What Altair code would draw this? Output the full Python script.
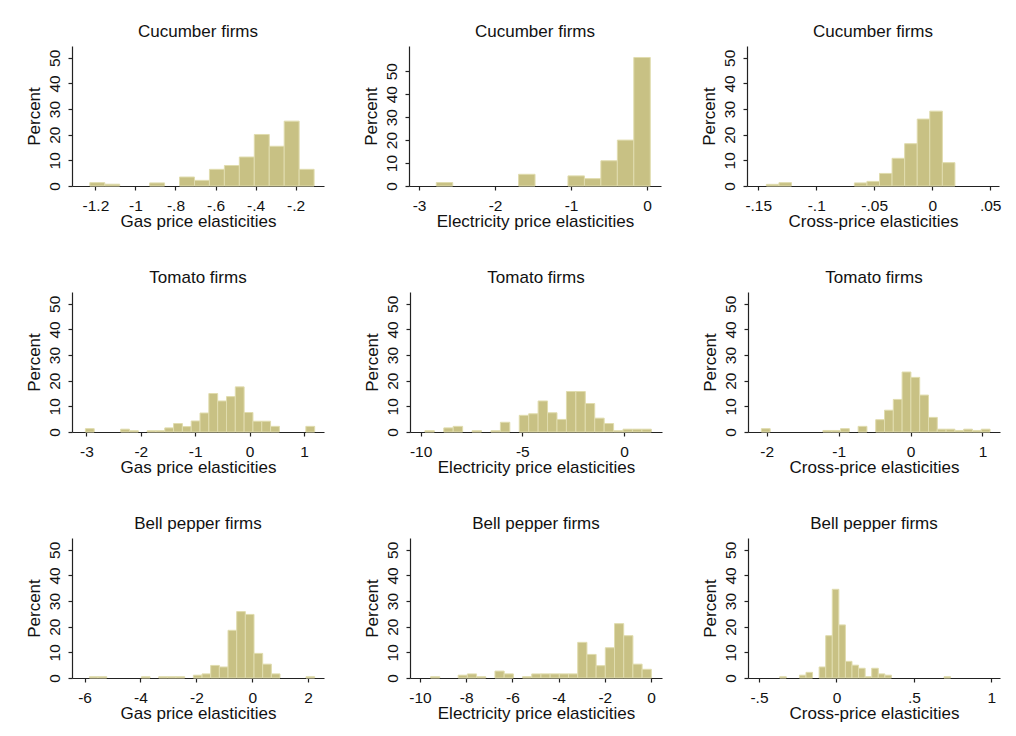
import json
import altair as alt
import pandas as pd

FONT = "Liberation Sans"
TEXT = "#111111"
AXIS = "#222222"
BAR_FILL = "#C8C184"
BAR_STROKE = "#E0DCAE"

# ---- data: bin start, bin width, percent per bin ----
rows = ["Cucumber firms", "Tomato firms", "Bell pepper firms"]
xtitles = ["Gas price elasticities", "Electricity price elasticities", "Cross-price elasticities"]

cuc_gas_start, cuc_gas_width = -1.228, 0.0747
cuc_gas_pct = [1.3, 0.7, 0, 0, 1.2, 0, 3.5, 2.2, 6.5, 8.0, 11.3, 20.1, 15.5, 25.3, 6.5]

cuc_ele_start, cuc_ele_width = -2.773, 0.2166
cuc_ele_pct = [1.5, 0, 0, 0, 0, 5.1, 0, 0, 4.4, 3.2, 11.0, 20.0, 56.0]

cuc_crs_start, cuc_crs_width = -0.1430, 0.01084
cuc_crs_pct = [0.65, 1.3, 0, 0, 0, 0, 0, 1.2, 1.8, 4.9, 10.8, 16.5, 26.1, 29.2, 9.1]

tom_gas_start, tom_gas_width = -3.018, 0.1621
tom_gas_pct = [1.3, 0, 0, 0, 1.1, 0.5, 0, 0.5, 0.5, 1.6, 3.3, 2.1, 4.3, 7.4, 15.0, 12.1,
               13.8, 17.6, 7.6, 4.2, 4.2, 2.2, 0, 0, 0, 2.2]

tom_ele_start, tom_ele_width = -9.787, 0.4637
tom_ele_pct = [0.5, 0, 1.6, 2.2, 0, 0.5, 0, 0.5, 3.8, 0, 6.5, 7.1, 12.1, 7.5, 4.9, 15.8,
               15.8, 11.1, 5.4, 3.3, 0.5, 1.1, 1.1, 1.1]

tom_crs_start, tom_crs_width = -2.074, 0.1223
tom_crs_pct = [1.3, 0, 0, 0, 0, 0, 0, 0.6, 0.6, 1.3, 0, 2.2, 0, 4.8, 8.5, 12.7, 23.4,
               21.3, 14.4, 5.7, 1.1, 1.1, 0.6, 1.1, 0.6, 1.1]

bel_gas_start, bel_gas_width = -5.827, 0.31
bel_gas_pct = [0.5, 0.5, 0, 0, 0, 0, 0.5, 0, 0.5, 0.5, 0.5, 0, 1.1, 1.6, 4.9, 4.3, 18.6,
               25.9, 24.8, 9.6, 5.4, 1.6, 0, 0, 0, 0.5]

bel_ele_start, bel_ele_width = -9.539, 0.398
bel_ele_pct = [0.5, 0, 0, 1.1, 1.6, 0.5, 0, 2.7, 1.6, 0, 0.5, 1.6, 1.6, 1.6, 1.6, 1.6,
               13.9, 9.2, 4.8, 11.8, 21.2, 16.5, 5.4, 3.4]

bel_crs_start, bel_crs_width = -0.3664, 0.04244
bel_crs_pct = [0.5, 0, 0, 1.1, 2.2, 0, 4.3, 16.5, 34.6, 20.7, 6.5, 5.0, 3.8, 0.5, 3.8,
               1.6, 1.1, 0, 0, 0, 0, 0, 0, 0, 0, 0.5]

# ---- axes: ticks, tick labels, axis ranges ----
gas1_ticks = [-1.2, -1, -0.8, -0.6, -0.4, -0.2]
gas1_labels = ["-1.2", "-1", "-.8", "-.6", "-.4", "-.2"]
ele1_ticks = [-3, -2, -1, 0]
ele1_labels = ["-3", "-2", "-1", "0"]
crs1_ticks = [-0.15, -0.1, -0.05, 0, 0.05]
crs1_labels = ["-.15", "-.1", "-.05", "0", ".05"]
gas2_ticks = [-3, -2, -1, 0, 1]
gas2_labels = ["-3", "-2", "-1", "0", "1"]
ele2_ticks = [-10, -5, 0]
ele2_labels = ["-10", "-5", "0"]
crs2_ticks = [-2, -1, 0, 1]
crs2_labels = ["-2", "-1", "0", "1"]
gas3_ticks = [-6, -4, -2, 0, 2]
gas3_labels = ["-6", "-4", "-2", "0", "2"]
ele3_ticks = [-10, -8, -6, -4, -2, 0]
ele3_labels = ["-10", "-8", "-6", "-4", "-2", "0"]
crs3_ticks = [-0.5, 0, 0.5, 1]
crs3_labels = ["-.5", "0", ".5", "1"]

y_ticks = [0, 10, 20, 30, 40, 50]
y_labels = ["0", "10", "20", "30", "40", "50"]

x_ranges = [
    [-1.317, -0.058], [-3.132, 0.184], [-0.1597, 0.0576],
    [-3.264, 1.368], [-10.52, 1.866], [-2.260, 1.244],
    [-6.45, 2.567], [-10.43, 0.476], [-0.571, 1.056],
]
y_tops = [54.6, 61.0, 54.6, 54.6, 54.6, 54.6, 54.6, 54.6, 54.6]

hists = [
    (cuc_gas_start, cuc_gas_width, cuc_gas_pct, gas1_ticks, gas1_labels),
    (cuc_ele_start, cuc_ele_width, cuc_ele_pct, ele1_ticks, ele1_labels),
    (cuc_crs_start, cuc_crs_width, cuc_crs_pct, crs1_ticks, crs1_labels),
    (tom_gas_start, tom_gas_width, tom_gas_pct, gas2_ticks, gas2_labels),
    (tom_ele_start, tom_ele_width, tom_ele_pct, ele2_ticks, ele2_labels),
    (tom_crs_start, tom_crs_width, tom_crs_pct, crs2_ticks, crs2_labels),
    (bel_gas_start, bel_gas_width, bel_gas_pct, gas3_ticks, gas3_labels),
    (bel_ele_start, bel_ele_width, bel_ele_pct, ele3_ticks, ele3_labels),
    (bel_crs_start, bel_crs_width, bel_crs_pct, crs3_ticks, crs3_labels),
]

W, H = 252, 140


def lookup_expr(ticks, labels):
    return f"{json.dumps(labels)}[indexof({json.dumps(ticks)}, datum.value)]"


def panel(i):
    start, width, pct, ticks, labels = hists[i]
    df = pd.DataFrame({"pct": pct})
    df["lo"] = start + df.index * width
    df["hi"] = df["lo"] + width
    df["base"] = 0.0
    df = df[df["pct"] > 0]
    title = rows[i // 3]
    xtitle = xtitles[i % 3]
    return (
        alt.Chart(df)
        .mark_bar(fill=BAR_FILL, stroke=BAR_STROKE, strokeWidth=1)
        .encode(
            x=alt.X(
                "lo:Q",
                scale=alt.Scale(domain=x_ranges[i], nice=False, zero=False),
                axis=alt.Axis(
                    values=ticks,
                    labelExpr=lookup_expr(ticks, labels),
                    title=xtitle,
                    tickSize=4,
                    labelPadding=8,
                    titlePadding=0,
                    labelFontSize=15.5,
                    titleFontSize=17,
                    labelFlush=False,
                    labelOverlap=False,
                ),
            ),
            x2="hi:Q",
            y=alt.Y(
                "pct:Q",
                scale=alt.Scale(domain=[0, y_tops[i]], nice=False),
                axis=alt.Axis(
                    values=y_ticks,
                    labelExpr=lookup_expr(y_ticks, y_labels),
                    title="Percent",
                    tickSize=4,
                    labelAngle=270,
                    labelAlign="center",
                    labelBaseline="bottom",
                    labelPadding=6,
                    titlePadding=4,
                    labelFontSize=15.5,
                    titleFontSize=17,
                    labelFlush=False,
                    labelOverlap=False,
                ),
            ),
            y2="base:Q",
        )
        .properties(
            width=W,
            height=H,
            title=alt.TitleParams(
                text=title, fontSize=17, fontWeight="normal", font=FONT,
                color=TEXT, anchor="middle", frame="group", offset=5,
            ),
        )
    )


grid = alt.vconcat(
    *[alt.hconcat(*[panel(r * 3 + c) for c in range(3)], spacing=38) for r in range(3)],
    spacing=39,
)

chart = (
    grid.properties(padding={"left": 16, "top": 15, "right": 5, "bottom": 5}, background="white")
    .configure_view(stroke=None)
    .configure_axis(
        grid=False,
        domainColor=AXIS,
        tickColor=AXIS,
        domainWidth=1.2,
        tickWidth=1.2,
        labelColor=TEXT,
        titleColor=TEXT,
        labelFont=FONT,
        titleFont=FONT,
        titleFontWeight="normal",
    )
)

chart.save("out.html", embed_options={"renderer": "svg", "actions": False})
